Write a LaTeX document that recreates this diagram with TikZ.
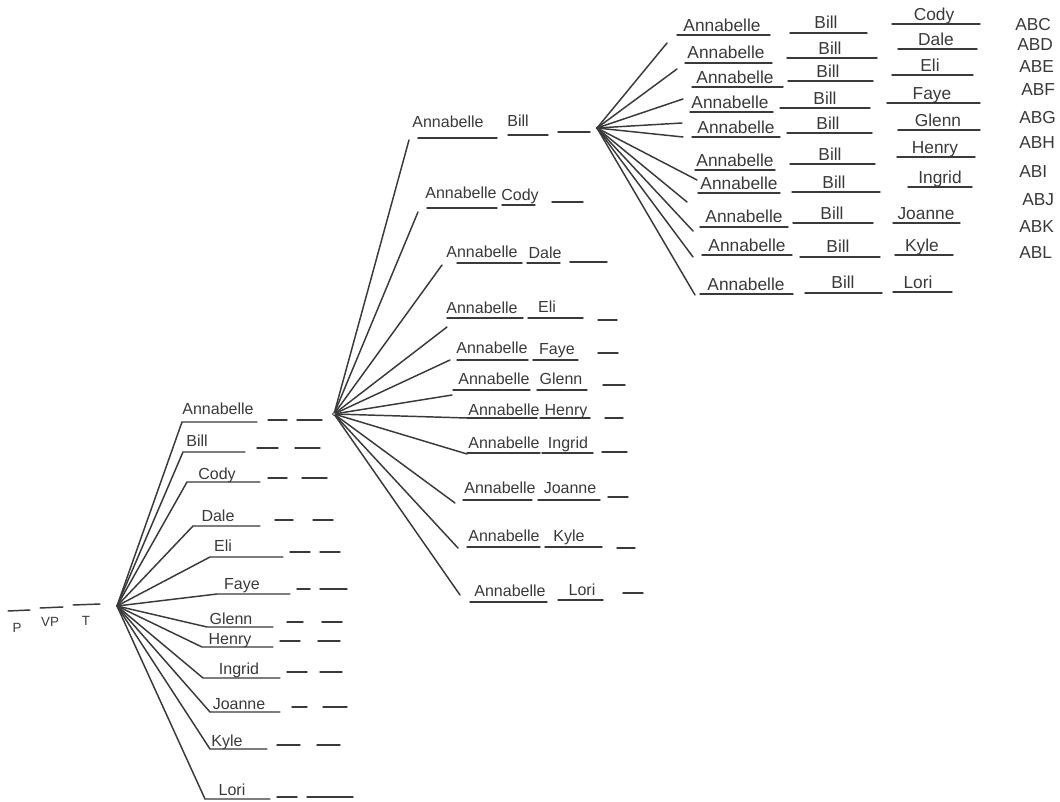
\documentclass[tikz,border=0pt]{standalone}
\usepackage{fontspec}
\setmainfont{Liberation Sans}
\definecolor{pencil}{HTML}{3A3A3A}
\tikzset{
  stroke/.style={draw=pencil, line width=1.1pt, line cap=round},
  hubdot/.style={draw=pencil, fill=white, line width=0.6pt},
  tinytext/.style={font=\fontsize{10}{10}\selectfont, text=pencil, inner sep=0pt},
  nameA/.style={font=\fontsize{12}{12}\selectfont, text=pencil, inner sep=0pt, anchor=base},
  nameB/.style={font=\fontsize{12}{12}\selectfont, text=pencil, inner sep=0pt, anchor=base},
  nameC/.style={font=\fontsize{13}{13}\selectfont, text=pencil, inner sep=0pt, anchor=base},
  codetext/.style={font=\fontsize{13}{13}\selectfont, text=pencil, inner sep=0pt, anchor=west},
}
\begin{document}
\begin{tikzpicture}[x=0.75pt,y=-0.75pt]
\useasboundingbox (0,0) rectangle (1060,802);
\fill[white] (0,0) rectangle (1060,802);

% ---- starting blanks: P VP T
\node[tinytext] (p)  at (17,628) {P};
\node[tinytext] (vp) at (50,622) {VP};
\node[tinytext] (t)  at (86,621) {T};
\draw[stroke] (8,611) -- (30,610);
\draw[stroke] (40,608) -- (63,607);
\draw[stroke] (73,605) -- (100,604);
\coordinate (root) at (117,606);

% ---- first choice: every person for P  (text x, text baseline, underline, two blanks)
\foreach \nm/\tx/\ty/\ua/\ub/\uy/\da/\db/\dc/\dd/\dy [count=\i] in {
  Annabelle/218/414/182/257/422/268/287/297/322/420,
  Bill/197/446/183/245/452/257/278/295/320/448,
  Cody/217/479/187/260/482/268/287/302/327/478,
  Dale/218/521/193/260/526/275/293/313/333/520,
  Eli/223/551/210/283/557/290/310/320/340/552,
  Faye/242/589/217/290/594/297/310/320/347/589,
  Glenn/231/624/207/273/627/287/303/322/342/622,
  Henry/230/644/202/273/647/280/300/318/340/641,
  Ingrid/239/674/203/280/678/287/307/320/342/672,
  Joanne/239/709/210/280/712/292/307/323/347/707,
  Kyle/227/746/210/267/749/277/300/317/340/745,
  Lori/232/795/205/270/799/277/297/307/353/797}
{
  \node[nameA] (a\i) at (\tx,\ty) {\nm};
  \coordinate (a\i u) at (\ua,\uy);
  \draw[stroke] (root) -- (a\i u) -- (\ub,\uy);
  \draw[stroke] (\da,\dy) -- (\db,\dy) (\dc,\dy) -- (\dd,\dy);
}

% ---- second choice after Annabelle
\coordinate (hubA) at (334,414);
\foreach \nm/\ax/\ay/\bx/\by/\ex/\ey/\ua/\ub/\uy/\va/\vb/\vy/\wa/\wb/\wy [count=\i] in {
  Bill/448/128/518/127/409/140/418/497/138/508/548/135/558/590/132,
  Cody/461/199/520/201/418/212/427/497/208/502/535/205/552/583/202,
  Dale/482/258/545/259/442/265/457/522/263/527/560/263/570/607/262,
  Eli/482/314/547/313/447/327/447/523/318/528/583/318/598/617/320,
  Faye/492/353/557/354/450/360/457/528/360/533/578/360/598/618/353,
  Glenn/494/384/561/384/452/395/453/530/390/537/587/390/603/625/385,
  Henry/504/415/566/415/467/418/467/537/418/540/590/418/605/623/418,
  Ingrid/504/448/568/448/467/454/467/540/453/542/593/453/602/627/452,
  Joanne/500/493/570/493/455/503/463/532/500/538/600/500/608/628/497,
  Kyle/504/541/569/541/458/548/467/540/547/545/602/547/617/635/548,
  Lori/510/596/582/595/460/595/470/547/602/558/603/600/623/643/593}
{
  \node[nameB] (b\i a) at (\ax,\ay) {Annabelle};
  \node[nameB] (b\i b) at (\bx,\by) {\nm};
  \coordinate (b\i e) at (\ex,\ey);
  \draw[stroke] (hubA) -- (b\i e);
  \draw[stroke] (\ua,\uy) -- (\ub,\uy) (\va,\vy) -- (\vb,\vy) (\wa,\wy) -- (\wb,\wy);
}
\draw[hubdot] (hubA) circle[radius=1.6];

% ---- third choice after Annabelle, Bill
\coordinate (hubB) at (597,128);
\foreach \nm/\cd/\ex/\ey/\ax/\ay/\aa/\ab/\auy/\bx/\by/\ba/\bb/\buy/\cx/\cy/\ca/\cb/\cuy/\kx/\ky [count=\i] in {
  Cody/ABC/667/43/722/32/677/770/35/826/29/790/867/33/934/21/892/980/24/1015/25,
  Dale/ABD/677/69/726/59/685/772/63/830/55/787/877/58/936/46/898/977/49/1017/45,
  Eli/ABE/683/99/735/84/692/783/87/828/78/788/873/81/930/72/892/973/75/1019/67,
  Faye/ABF/682/123/730/109/690/773/112/825/105/780/870/108/932/100/887/980/103/1021/90,
  Glenn/ABG/683/137/736/134/692/780/137/828/130/787/872/133/938/127/898/980/130/1019/118,
  Henry/ABH/697/180/735/167/695/775/170/830/161/790/875/164/935/154/897/975/157/1019/143,
  Ingrid/ABI/687/202/739/190/698/780/193/834/189/792/880/192/940/184/908/972/187/1019/172,
  Joanne/ABJ/693/231/744/223/700/788/227/832/220/793/873/223/926/220/893/960/223/1022/200,
  Kyle/ABK/693/257/747/252/702/792/255/838/253/800/880/257/922/252/895/953/255/1019/227,
  Lori/ABL/695/295/746/291/700/793/294/843/289/805/882/293/918/289/893/952/292/1019/253}
{
  \node[nameC] (c\i a) at (\ax,\ay) {Annabelle};
  \node[nameC] (c\i b) at (\bx,\by) {Bill};
  \node[nameC] (c\i c) at (\cx,\cy) {\nm};
  \node[codetext] (c\i k) at (\kx,\ky) {\cd};
  \coordinate (c\i e) at (\ex,\ey);
  \draw[stroke] (hubB) -- (c\i e);
  \draw[stroke] (\aa,\auy) -- (\ab,\auy) (\ba,\buy) -- (\bb,\buy) (\ca,\cuy) -- (\cb,\cuy);
}
\fill[pencil] (hubB) circle[radius=1.3];
\end{tikzpicture}
\end{document}
